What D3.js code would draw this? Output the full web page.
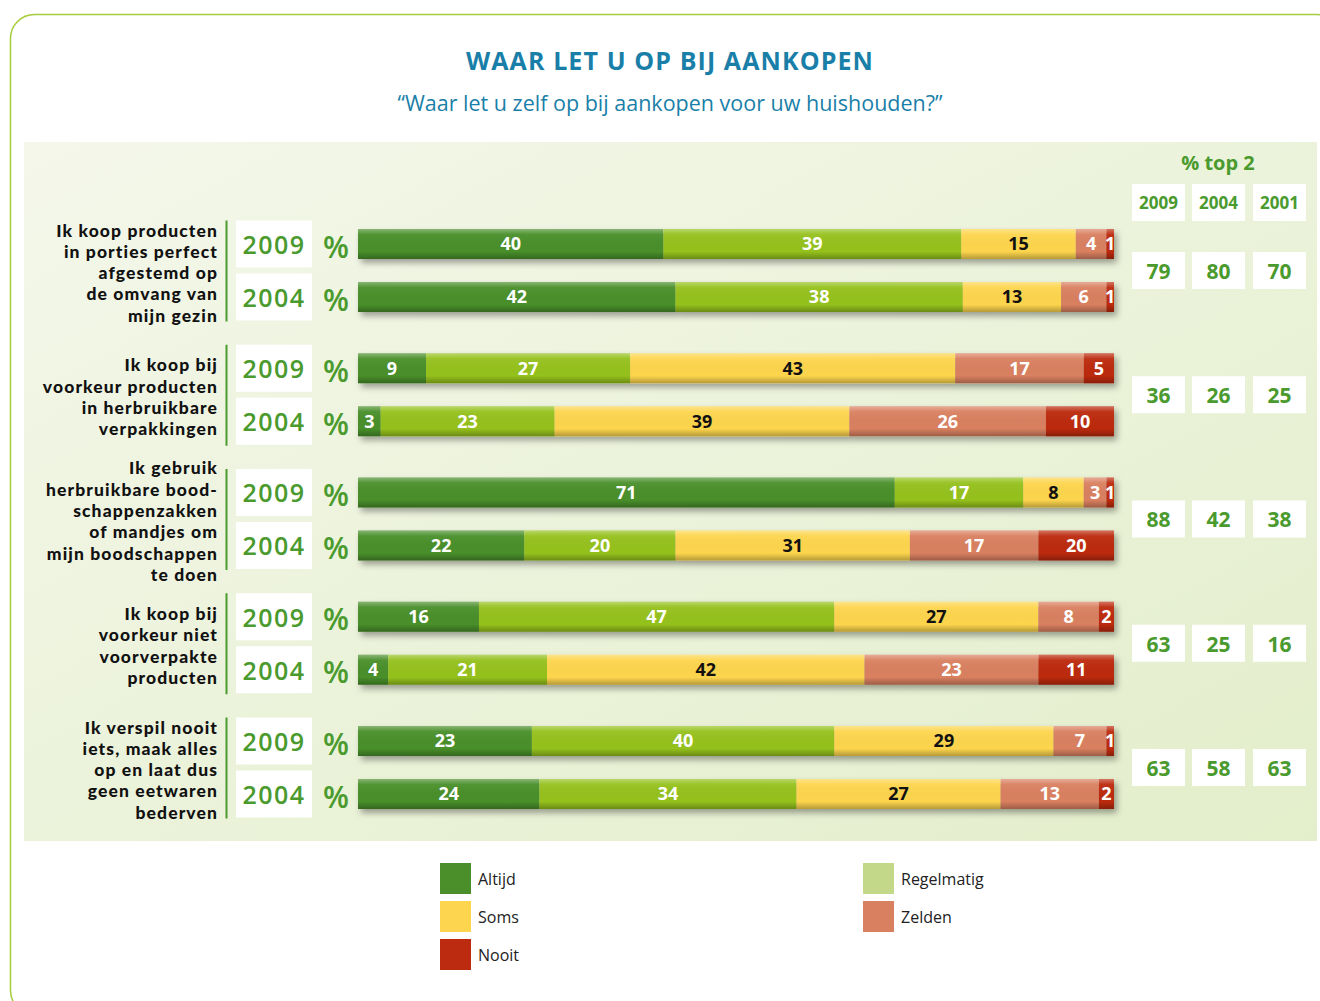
<!DOCTYPE html>
<html>
<head>
<meta charset="utf-8">
<script src="https://cdn.jsdelivr.net/npm/d3@7"></script>
<style>
  html, body { margin: 0; padding: 0; background: #fff; }
  svg { display: block; }
</style>
</head>
<body>
<svg id="chart" width="1320" height="1001"></svg>
<script>
// ---------------- DATA ----------------
const title = "WAAR LET U OP BIJ AANKOPEN";
const subtitle = "\u201CWaar let u zelf op bij aankopen voor uw huishouden?\u201D";

const statements = [
  ["Ik koop producten", "in porties perfect", "afgestemd op", "de omvang van", "mijn gezin"],
  ["Ik koop bij", "voorkeur producten", "in herbruikbare", "verpakkingen"],
  ["Ik gebruik", "herbruikbare bood-", "schappenzakken", "of mandjes om", "mijn boodschappen", "te doen"],
  ["Ik koop bij", "voorkeur niet", "voorverpakte", "producten"],
  ["Ik verspil nooit", "iets, maak alles", "op en laat dus", "geen eetwaren", "bederven"]
];
const years = ["2009", "2004"];
const categories = ["Altijd", "Regelmatig", "Soms", "Zelden", "Nooit"];

// per statement: [2009, 2004]
const altijd     = [[40, 42], [9, 3],   [71, 22], [16, 4],  [23, 24]];
const regelmatig = [[39, 38], [27, 23], [17, 20], [47, 21], [40, 34]];
const soms       = [[15, 13], [43, 39], [8, 31],  [27, 42], [29, 27]];
const zelden     = [[4, 6],   [17, 26], [3, 17],  [8, 23],  [7, 13]];
const nooit      = [[1, 1],   [5, 10],  [1, 20],  [2, 11],  [1, 2]];

const top2Years = ["2009", "2004", "2001"];
const top2_2009 = [79, 36, 88, 63, 63];
const top2_2004 = [80, 26, 42, 25, 58];
const top2_2001 = [70, 25, 38, 16, 63];
const top2Title = "% top 2";

// ---------------- STYLE ----------------
const barColors = ["#4a8f2a", "#95c11f", "#fdd54e", "#d98061", "#bc2a10"];
const legendColors = ["#4a8f2a", "#c3d889", "#fdd54e", "#d98061", "#bc2a10"];
const labelColors = ["#fff", "#fff", "#111", "#fff", "#fff"];
const green = "#4a9a2e";
const blue = "#1a7fa8";
const font = "'Open Sans', 'DejaVu Sans', sans-serif";
const labelFont = "Lato, 'Open Sans', sans-serif";

const svg = d3.select("#chart");
const defs = svg.append("defs");

// panel gradient
const pg = defs.append("linearGradient").attr("id", "panelGrad")
  .attr("x1", "0%").attr("y1", "0%").attr("x2", "100%").attr("y2", "100%");
pg.append("stop").attr("offset", "0%").attr("stop-color", "#f4f7ea");
pg.append("stop").attr("offset", "100%").attr("stop-color", "#e3eecb");

// bar sheen
const sh = defs.append("linearGradient").attr("id", "sheen")
  .attr("x1", "0").attr("y1", "0").attr("x2", "0").attr("y2", "1");
sh.append("stop").attr("offset", "0%").attr("stop-color", "#fff").attr("stop-opacity", 0.35);
sh.append("stop").attr("offset", "18%").attr("stop-color", "#fff").attr("stop-opacity", 0.05);
sh.append("stop").attr("offset", "75%").attr("stop-color", "#000").attr("stop-opacity", 0.0);
sh.append("stop").attr("offset", "100%").attr("stop-color", "#000").attr("stop-opacity", 0.28);

const f = defs.append("filter").attr("id", "shadow")
  .attr("x", "-5%").attr("y", "-30%").attr("width", "115%").attr("height", "190%");
f.append("feDropShadow").attr("dx", 3).attr("dy", 4).attr("stdDeviation", 3)
  .attr("flood-color", "#000").attr("flood-opacity", 0.35);

// outer frame
svg.append("rect")
  .attr("x", 10.5).attr("y", 14.5).attr("width", 1330).attr("height", 1000)
  .attr("rx", 24).attr("ry", 24)
  .attr("fill", "none").attr("stroke", "#a6cb3c").attr("stroke-width", 1.5);

// panel
svg.append("rect").attr("x", 24).attr("y", 142).attr("width", 1293).attr("height", 699)
  .attr("fill", "url(#panelGrad)");

// titles
svg.append("text").attr("x", 670).attr("y", 70).attr("text-anchor", "middle")
  .attr("font-family", font).attr("font-weight", 700).attr("font-size", 25)
  .attr("letter-spacing", 1.1)
  .attr("fill", blue).text(title);
svg.append("text").attr("x", 670).attr("y", 111).attr("text-anchor", "middle")
  .attr("font-family", font).attr("font-size", 21.5)
  .attr("fill", blue).text(subtitle);

// scales
const groupY = d3.scaleLinear().domain([0, statements.length - 1]).range([270.5, 767.5]);
const yearOffset = d3.scaleOrdinal().domain(years).range([-26.5, 26.5]);
const barH = 30;
const barX0 = 358, barX1 = 1114;

const seriesByCat = [altijd, regelmatig, soms, zelden, nooit];

statements.forEach((lines, gi) => {
  const cy = groupY(gi);
  const g = svg.append("g");

  // statement text
  const lh = 21.3;
  const n = lines.length;
  lines.forEach((ln, li) => {
    g.append("text")
      .attr("x", 218).attr("y", cy + 2.5 + (li - (n - 1) / 2) * lh)
      .attr("dy", "0.35em").attr("text-anchor", "end")
      .attr("font-family", labelFont).attr("font-weight", 900).attr("font-size", 17.5)
      .attr("letter-spacing", 1.1)
      .attr("fill", "#111").text(ln);
  });

  // vertical line
  g.append("line").attr("x1", 226.5).attr("x2", 226.5)
    .attr("y1", cy + yearOffset("2009") - 23.5).attr("y2", cy + yearOffset("2004") + 24.5)
    .attr("stroke", green).attr("stroke-width", 2);

  years.forEach((yr, yi) => {
    const by = cy + yearOffset(yr);
    // year box
    g.append("rect").attr("x", 236).attr("y", by - 23.5).attr("width", 76).attr("height", 47)
      .attr("fill", "#fff");
    g.append("text").attr("x", 274).attr("y", by + 1).attr("dy", "0.35em")
      .attr("text-anchor", "middle").attr("font-family", font).attr("font-weight", 600)
      .attr("font-size", 25).attr("letter-spacing", 1.5).attr("fill", green).text(yr);
    g.append("text").attr("x", 336).attr("y", by + 3).attr("dy", "0.35em")
      .attr("text-anchor", "middle").attr("font-family", font).attr("font-weight", 600)
      .attr("font-size", 30).attr("fill", green).text("%");

    // stacked bar
    const vals = seriesByCat.map(s => s[gi][yi]);
    const row = {};
    categories.forEach((c, ci) => row[c] = vals[ci]);
    const stacked = d3.stack().keys(categories)([row]);
    const total = d3.sum(vals);
    const x = d3.scaleLinear().domain([0, Math.min(100, total)]).range([barX0, barX1]).clamp(true);

    const bar = g.append("g").attr("filter", "url(#shadow)");
    stacked.forEach((layer, ci) => {
      const d = layer[0];
      const xa = x(d[0]), xb = x(d[1]);
      bar.append("rect").attr("x", xa).attr("y", by - barH / 2)
        .attr("width", Math.max(0, xb - xa)).attr("height", barH)
        .attr("fill", barColors[ci]);
    });
    g.append("rect").attr("x", barX0).attr("y", by - barH / 2)
      .attr("width", barX1 - barX0).attr("height", barH).attr("fill", "url(#sheen)");
    stacked.forEach((layer, ci) => {
      const d = layer[0];
      const xa = x(d[0]), xb = x(d[1]);
      g.append("text").attr("x", (xa + xb) / 2).attr("y", by).attr("dy", "0.35em")
        .attr("text-anchor", "middle").attr("font-family", font).attr("font-weight", 700)
        .attr("font-size", 18).attr("fill", labelColors[ci]).text(vals[ci]);
    });
  });
});

// top 2 table
const colX = d3.scaleOrdinal().domain(top2Years).range([1158.5, 1218.5, 1279.5]);
const top2Vals = [top2_2009, top2_2004, top2_2001];
svg.append("text").attr("x", 1218).attr("y", 163).attr("dy", "0.35em")
  .attr("text-anchor", "middle").attr("font-family", font).attr("font-weight", 700)
  .attr("font-size", 20).attr("fill", green).text(top2Title);
top2Years.forEach((yr, ci) => {
  const cx = colX(yr);
  svg.append("rect").attr("x", cx - 26.5).attr("y", 184).attr("width", 53).attr("height", 37).attr("fill", "#fff");
  svg.append("text").attr("x", cx).attr("y", 203).attr("dy", "0.35em").attr("text-anchor", "middle")
    .attr("font-family", font).attr("font-weight", 700).attr("font-size", 17)
    .attr("fill", green).text(yr);
  top2Vals[ci].forEach((v, gi) => {
    const cy = groupY(gi);
    svg.append("rect").attr("x", cx - 26.5).attr("y", cy - 18.5).attr("width", 53).attr("height", 37).attr("fill", "#fff");
    svg.append("text").attr("x", cx).attr("y", cy + 1).attr("dy", "0.35em").attr("text-anchor", "middle")
      .attr("font-family", font).attr("font-weight", 700).attr("font-size", 21)
      .attr("fill", green).text(v);
  });
});

// legend
const legendPos = {
  "Altijd": [440, 863], "Soms": [440, 901], "Nooit": [440, 939],
  "Regelmatig": [863, 863], "Zelden": [863, 901]
};
categories.forEach((c, ci) => {
  const [lx, ly] = legendPos[c];
  svg.append("rect").attr("x", lx).attr("y", ly).attr("width", 31).attr("height", 31)
    .attr("fill", legendColors[ci]);
  svg.append("text").attr("x", lx + 38).attr("y", ly + 16).attr("dy", "0.35em")
    .attr("font-family", font).attr("font-size", 16).attr("fill", "#222").text(c);
});
</script>
</body>
</html>
